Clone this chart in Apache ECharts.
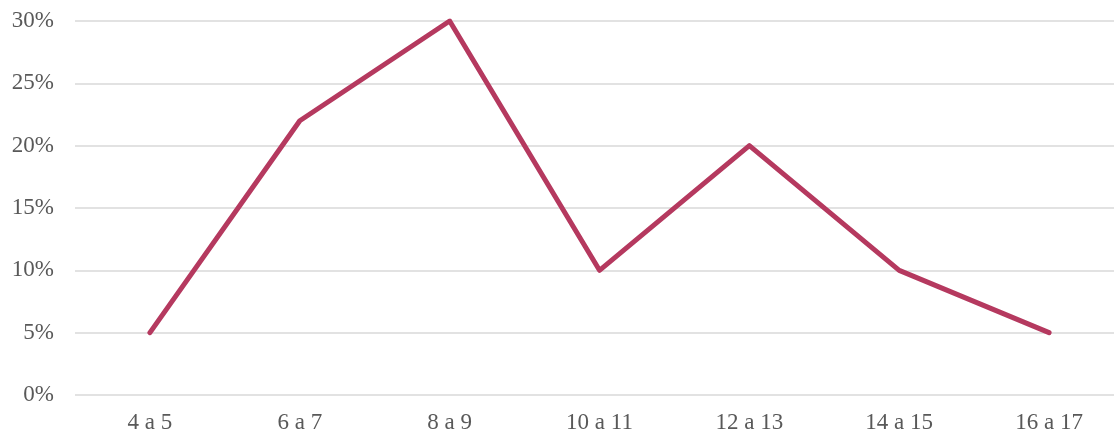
<!DOCTYPE html>
<html>
<head>
    <meta charset="utf-8">
    <title>Line chart</title>
    <script src="https://cdn.jsdelivr.net/npm/echarts@6/dist/echarts.min.js"></script>
    <style>
        html, body { margin: 0; padding: 0; background: #fff; overflow: hidden; }
        /* chart is a bit wider than the window: the reference cuts off the right edge */
        #chart { width: 1124px; height: 436px; }
    </style>
</head>
<body>
    <div id="chart"></div>
    <script>
        var categories = ['4 a 5', '6 a 7', '8 a 9', '10 a 11', '12 a 13', '14 a 15', '16 a 17'];
        var values = [5, 22, 30, 10, 20, 10, 5];

        var myChart = echarts.init(document.getElementById('chart'));
        var option = {
            animation: false,
            grid: { left: 75, right: 0, top: 21, bottom: 41 },
            xAxis: {
                type: 'category',
                data: categories,
                boundaryGap: true,
                axisLine: { show: false },
                axisTick: { show: false },
                axisLabel: {
                    interval: 0,
                    margin: 16,
                    color: '#595959',
                    fontFamily: 'Liberation Serif',
                    fontSize: 23
                }
            },
            yAxis: {
                type: 'value',
                min: 0,
                max: 30,
                interval: 5,
                axisLine: { show: false },
                axisTick: { show: false },
                axisLabel: {
                    formatter: '{value}%',
                    margin: 21,
                    color: '#595959',
                    fontFamily: 'Liberation Serif',
                    fontSize: 23
                },
                splitLine: { lineStyle: { color: '#d9d9d9', width: 1.5 } }
            },
            series: [{
                type: 'line',
                data: values,
                symbol: 'none',
                lineStyle: { color: '#b5395f', width: 5, cap: 'round', join: 'round' }
            }]
        };
        myChart.setOption(option);
    </script>
</body>
</html>
